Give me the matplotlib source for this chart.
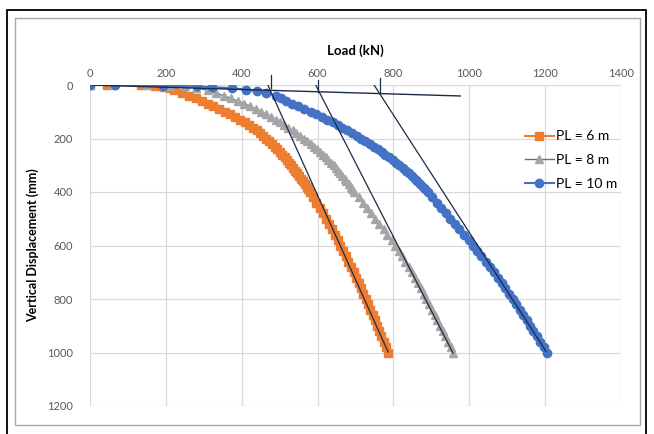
import matplotlib.pyplot as plt
from matplotlib.patches import Rectangle

plt.rcParams['font.family'] = ['Lato', 'DejaVu Sans']

# PL = 6 m  (load kN, displacement mm)
load_6 = [0, 45, 135, 172, 195, 210,
          222, 243, 262, 279, 295, 310, 325, 340, 355, 369, 382, 395, 408, 419, 430,
          439, 448, 457, 465, 473, 480, 487, 494, 501, 507, 513, 519, 525, 530, 536,
          541, 546, 551, 556, 561, 566, 571, 576, 580,
          589, 597, 606, 614, 622, 630, 638, 645, 653, 660, 667, 674, 681, 688, 695,
          701, 708, 714, 721, 727, 733, 739, 745, 751, 757, 763, 768, 774, 780, 785]
disp_6 = [0, 0, 1, 3, 7, 12,
          20, 30, 40, 50, 60, 70, 80, 90, 100, 110, 120, 130, 140, 150, 160,
          170, 180, 190, 200, 210, 220, 230, 240, 250, 260, 270, 280, 290, 300, 310,
          320, 330, 340, 350, 360, 370, 380, 390, 400,
          420, 440, 460, 480, 500, 520, 540, 560, 580, 600, 620, 640, 660, 680, 700,
          720, 740, 760, 780, 800, 820, 840, 860, 880, 900, 920, 940, 960, 980, 1000]

# PL = 8 m
load_8 = [0, 60, 150, 210, 250, 280,
          310, 332, 352, 372, 390, 407, 423, 438, 452, 465, 478, 490, 501, 512, 523,
          534, 544, 554, 564, 573, 582, 590, 598, 606, 614, 621, 628, 635, 642, 648,
          653, 659, 665, 671, 676, 682, 687, 692, 697,
          709, 720, 731, 742, 752, 763, 774, 784, 795, 805, 814, 823, 831, 840, 848,
          856, 864, 872, 880, 887, 894, 902, 909, 916, 923, 930, 937, 944, 951, 958]
disp_8 = [0, 0, 1, 2, 4, 10,
          20, 30, 40, 50, 60, 70, 80, 90, 100, 110, 120, 130, 140, 150, 160,
          170, 180, 190, 200, 210, 220, 230, 240, 250, 260, 270, 280, 290, 300, 310,
          320, 330, 340, 350, 360, 370, 380, 390, 400,
          420, 440, 460, 480, 500, 520, 540, 560, 580, 600, 620, 640, 660, 680, 700,
          720, 740, 760, 780, 800, 820, 840, 860, 880, 900, 920, 940, 960, 980, 1000]

# PL = 10 m
load_10 = [0, 66, 193, 282, 322, 375, 410, 440, 465, 490,
           503, 518, 533, 548, 565, 582, 597, 612, 626, 640, 653, 665, 678, 690, 703,
           715, 726, 737, 748, 759, 769, 779, 789, 798, 807, 816, 824, 832, 840, 848,
           856, 863, 870, 877, 884, 890,
           902, 914, 926, 938, 950, 962, 974, 986, 998, 1010, 1021, 1032, 1043, 1054,
           1065, 1075, 1085, 1095, 1105, 1115, 1124, 1133, 1142, 1151, 1160, 1169,
           1178, 1187, 1196, 1205]
disp_10 = [0, 0, 2, 5, 8, 12, 17, 24, 31, 40,
           50, 60, 70, 80, 90, 100, 110, 120, 130, 140, 150, 160, 170, 180, 190,
           200, 210, 220, 230, 240, 250, 260, 270, 280, 290, 300, 310, 320, 330, 340,
           350, 360, 370, 380, 390, 400,
           420, 440, 460, 480, 500, 520, 540, 560, 580, 600, 620, 640, 660, 680,
           700, 720, 740, 760, 780, 800, 820, 840, 860, 880, 900, 920,
           940, 960, 980, 1000]

# construction lines (load, displacement)
initial_line = ([0, 976], [0, 41])
tangents = [([469, 786], [0, 998]), ([595, 957], [0, 1002]), ([749, 1202], [0, 995])]
markers_pl = [(477, -37, 11), (602, -19, 26), (765, -26, 30)]

orange = '#ED7D31'
gray = '#A5A5A5'
blue = '#4472C4'
navy = '#1B2A47'

W, H = 654, 434
fig = plt.figure(figsize=(W / 100, H / 100), dpi=100)
ax = fig.add_axes([90 / W, 1 - 406 / H, (621 - 90) / W, (406 - 85) / H])

# frames
fig.patches.append(Rectangle((7 / W, -0.05), (646 - 7) / W, 1 - 10 / H + 0.05,
                             transform=fig.transFigure, fill=False,
                             edgecolor='black', lw=1.3))
fig.patches.append(Rectangle((15 / W, 1 - 425 / H), (640 - 15) / W, (425 - 18) / H,
                             transform=fig.transFigure, fill=False,
                             edgecolor='#A6A6A6', lw=1.0))

ax.plot(load_6, disp_6, color=orange, lw=1.5, marker='s', ms=6,
        mfc=orange, mec=orange, label='PL = 6 m', zorder=3)
ax.plot(load_8, disp_8, color=blue, lw=1.0, marker='^', ms=6,
        mfc=gray, mec=gray, label='PL = 8 m', zorder=4)
ax.plot(load_10, disp_10, color=blue, lw=1.5, marker='o', ms=6,
        mfc=blue, mec=blue, label='PL = 10 m', zorder=5)

ax.plot(*initial_line, color=navy, lw=1.0, zorder=6)
for tx, ty in tangents:
    ax.plot(tx, ty, color=navy, lw=0.9, zorder=6)
for x, y0, y1 in markers_pl:
    ax.plot([x, x], [y0, y1], color=navy, lw=0.9, zorder=6, clip_on=False)

ax.set_xlim(0, 1400)
ax.set_ylim(1200, 0)
ax.set_xticks(range(0, 1401, 200))
ax.set_yticks(range(0, 1201, 200))
ax.xaxis.tick_top()
ax.xaxis.set_label_position('top')
ax.tick_params(length=0, labelsize=8, labelcolor='#595959')
ax.tick_params(axis='x', pad=4)
ax.tick_params(axis='y', pad=12)
ax.grid(True, color='#D9D9D9', lw=0.9)
ax.set_axisbelow(True)
for s in ax.spines.values():
    s.set_visible(False)

ax.set_xlabel('Load (kN)', fontsize=9.5, fontweight='bold', labelpad=10)
ax.set_ylabel('Vertical Displacement (mm)', fontsize=9, fontweight='bold', labelpad=6)

ax.legend(loc='upper left', bbox_to_anchor=(512 / W, 1 - 118 / H),
          bbox_transform=fig.transFigure, frameon=False, fontsize=10,
          handlelength=2.1, handletextpad=0.15, labelspacing=0.85)

plt.savefig('out.png', dpi=100)
